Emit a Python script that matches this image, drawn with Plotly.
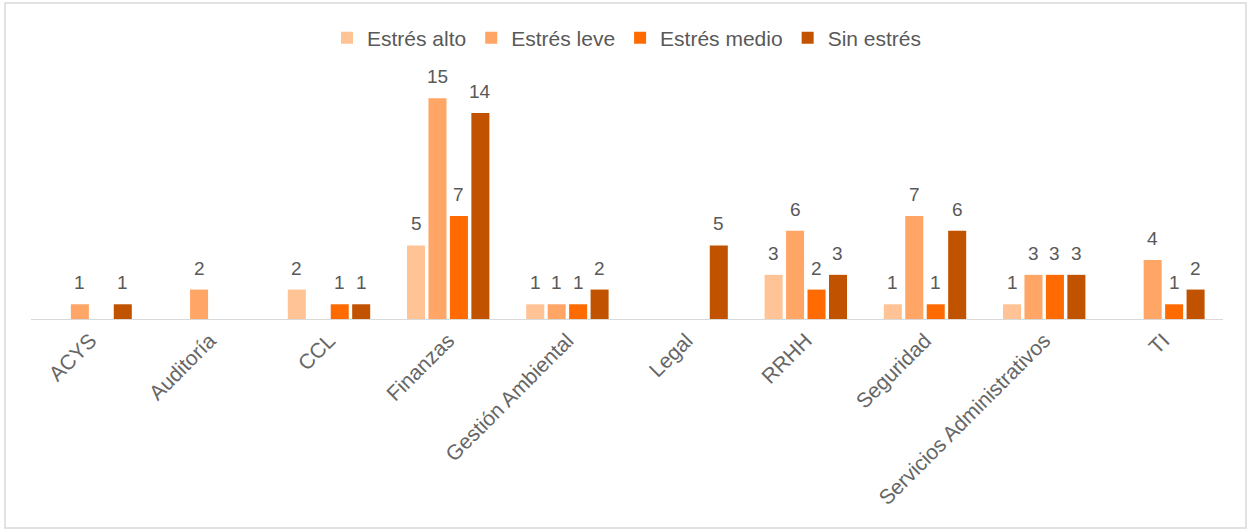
import plotly.graph_objects as go

# Departments and stress-level counts
departamentos = ["ACYS", "Auditoría", "CCL", "Finanzas", "Gestión Ambiental",
                 "Legal", "RRHH", "Seguridad", "Servicios Administrativos", "TI"]

estres_alto = [None, None, 2, 5, 1, None, 3, 1, 1, None]
estres_leve = [1, 2, None, 15, 1, None, 6, 7, 3, 4]
estres_medio = [None, None, 1, 7, 1, None, 2, 1, 3, 1]
sin_estres = [1, None, 1, 14, 2, 5, 3, 6, 3, 2]

series = [
    ("Estrés alto", estres_alto, "#FFC396"),
    ("Estrés leve", estres_leve, "#FFA566"),
    ("Estrés medio", estres_medio, "#FF6B00"),
    ("Sin estrés", sin_estres, "#C05200"),
]

FONT = "Liberation Sans, Arial, sans-serif"
GRAY = "#595959"
BARGAP = 0.28

fig = go.Figure()
for nombre, valores, color in series:
    fig.add_trace(go.Bar(
        name=nombre,
        x=departamentos,
        y=valores,
        marker=dict(color=color, line=dict(width=0)),
    ))

# Value labels above each bar, centred on the bar's slot within its group
n = len(series)
slot = (1 - BARGAP) / n
labels = []
for k, (_, valores, _) in enumerate(series):
    for i, v in enumerate(valores):
        if v is None:
            continue
        labels.append(dict(
            x=i - (1 - BARGAP) / 2 + (k + 0.5) * slot,
            y=v, xref="x", yref="y",
            text=str(v), showarrow=False,
            yanchor="bottom", yshift=9,
            font=dict(family=FONT, size=19, color=GRAY),
        ))

W, H = 1249, 531
fig.update_layout(
    width=W, height=H,
    barmode="group",
    bargap=BARGAP,
    bargroupgap=0.16,
    plot_bgcolor="white",
    paper_bgcolor="white",
    margin=dict(l=31, r=26, t=54, b=212, autoexpand=False),
    font=dict(family=FONT, color=GRAY),
    legend=dict(
        orientation="h",
        x=0.5, xanchor="center",
        y=1.06, yanchor="middle",
        font=dict(family=FONT, size=21, color=GRAY),
        itemwidth=30,
        traceorder="normal",
    ),
    xaxis=dict(
        showline=True, linecolor="#D9D9D9", linewidth=1,
        ticks="", tickangle=-45,
        tickfont=dict(family=FONT, size=21, color="#666666"),
        showgrid=False,
    ),
    yaxis=dict(
        range=[0, 18],
        visible=False,
        showgrid=False,
        zeroline=False,
    ),
    annotations=labels,
    shapes=[dict(
        type="rect", xref="paper", yref="paper",
        x0=(5 - 31) / (W - 31 - 26), x1=(1246 - 31) / (W - 31 - 26),
        y0=(H - 212 - 528) / (H - 54 - 212), y1=(H - 212 - 3) / (H - 54 - 212),
        line=dict(color="#D9D9D9", width=1.5),
        fillcolor="rgba(0,0,0,0)",
        layer="below",
    )],
)

fig.write_html("out.html")
